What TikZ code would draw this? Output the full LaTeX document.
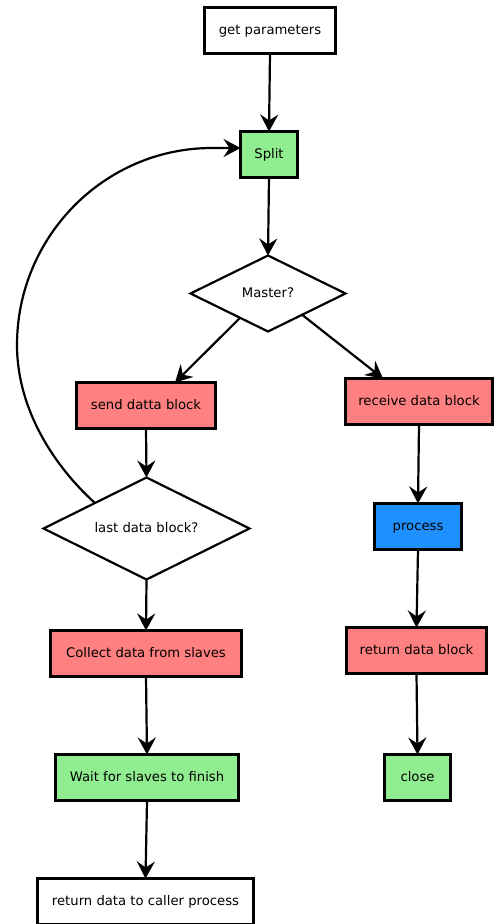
\documentclass[tikz,border=0pt]{standalone}
\usepackage{fontspec}
\setmainfont{DejaVu Sans}
\usetikzlibrary{shapes.geometric,arrows.meta,calc}
\definecolor{boxgreen}{HTML}{90EE90}
\definecolor{boxred}{HTML}{FF8080}
\definecolor{boxblue}{HTML}{1E90FF}
\begin{document}
\begin{tikzpicture}[x=1pt,y=-1pt,
  txt/.style={font=\fontsize{13.2}{15}\selectfont,text height=9.8pt,text depth=2.8pt},
  box/.style={txt,draw=black,line width=2.2pt,rectangle,inner sep=0pt,outer sep=0pt,minimum height=46pt},
  dia/.style={txt,draw=black,line width=2.2pt,diamond,shape aspect=2,inner sep=0pt,outer sep=0pt},
  conn/.style={line width=2.2pt,-{Stealth[length=17pt,width=18pt,inset=6pt]}}]
\useasboundingbox (0,0) rectangle (494,924);
\node[box,fill=white,minimum width=131pt] (get) at (270,30.5) {get parameters};
\node[box,fill=boxgreen,minimum width=57pt] (split) at (269,154.5) {Split};
\node[dia,fill=white,minimum width=155pt,minimum height=76pt] (master) at (268,293.5) {Master?};
\node[box,fill=boxred,minimum width=139pt] (send) at (146,405.5) {send datta block};
\node[box,fill=boxred,minimum width=147pt] (recv) at (419,401.5) {receive data block};
\node[dia,fill=white,minimum width=206pt,minimum height=102pt] (last) at (146.5,528.5) {last data block?};
\node[box,fill=boxblue,minimum width=87pt] (proc) at (418,526.5) {process};
\node[box,fill=boxred,minimum width=191pt] (coll) at (146,653.5) {Collect data from slaves};
\node[box,fill=boxred,minimum width=140pt] (retb) at (416.5,650.5) {return data block};
\node[box,fill=boxgreen,minimum width=183pt] (wait) at (147,777.5) {Wait for slaves to finish};
\node[box,fill=boxgreen,minimum width=66pt] (close) at (417.5,777.5) {close};
\node[box,fill=white,minimum width=216pt] (ret) at (145.5,901.5) {return data to caller process};

\draw[conn] (get.south) -- (split.north);
\draw[conn] (split.south) -- (master.north);
\draw[conn] ($(master.south)!0.36!(master.west)$) -- ($(send.north)+(29,0)$);
\draw[conn] ($(master.south)!0.44!(master.east)$) -- ($(recv.north)+(-36,0)$);
\draw[conn] (send.south) -- (last.north);
\draw[conn] (last.south) -- (coll.north);
\draw[conn] (coll.south) -- (wait.north);
\draw[conn] (wait.south) -- (ret.north);
\draw[conn] (recv.south) -- (proc.north);
\draw[conn] (proc.south) -- (retb.north);
\draw[conn] (retb.south) -- (close.north);
\draw[conn] (last.north west) .. controls (55,467) and (17,410) .. (17,345)
  .. controls (17,237) and (104,148) .. (212,148) -- ($(split.west)+(0,-6.5)$);
\end{tikzpicture}
\end{document}
